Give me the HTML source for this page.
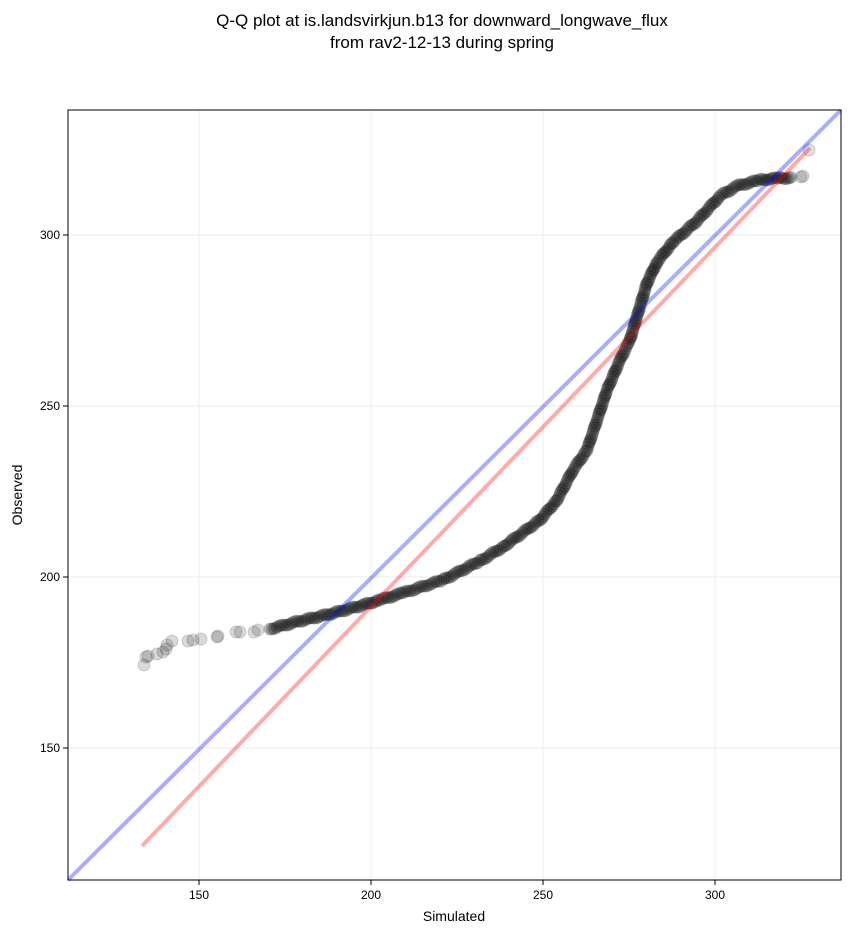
<!DOCTYPE html>
<html><head><meta charset="utf-8"><style>
body{margin:0;background:#fff;font-family:"Liberation Sans","DejaVu Sans",sans-serif;}
</style></head><body>
<svg id="s" width="851" height="934" xmlns="http://www.w3.org/2000/svg" font-family="Liberation Sans, DejaVu Sans, sans-serif">
<rect width="851" height="934" fill="#fff"/>
<text x="442" y="26" font-size="17" text-anchor="middle">Q-Q plot at is.landsvirkjun.b13 for downward_longwave_flux</text>
<text x="442" y="48" font-size="17" text-anchor="middle">from rav2-12-13 during spring</text>
<g stroke="#efefef" stroke-width="1.2">
<line x1="199" y1="110" x2="199" y2="880"/><line x1="371" y1="110" x2="371" y2="880"/>
<line x1="543" y1="110" x2="543" y2="880"/><line x1="715" y1="110" x2="715" y2="880"/>
<line x1="68" y1="235" x2="841" y2="235"/><line x1="68" y1="406" x2="841" y2="406"/>
<line x1="68" y1="577" x2="841" y2="577"/><line x1="68" y1="748" x2="841" y2="748"/>
</g>
<g id="pts"></g>
<line x1="68" y1="880" x2="841" y2="110" stroke="#0000ff" stroke-opacity="0.33" stroke-width="4"/>
<line x1="142" y1="846" x2="810" y2="148" stroke="#ff0000" stroke-opacity="0.33" stroke-width="4"/>
<rect x="68" y="110" width="773" height="770" fill="none" stroke="#000" stroke-width="1"/>
<g stroke="#000"><line x1="199" y1="880" x2="199" y2="885"/><line x1="371" y1="880" x2="371" y2="885"/><line x1="543" y1="880" x2="543" y2="885"/><line x1="715" y1="880" x2="715" y2="885"/>
<line x1="63" y1="235" x2="68" y2="235"/><line x1="63" y1="406" x2="68" y2="406"/><line x1="63" y1="577" x2="68" y2="577"/><line x1="63" y1="748" x2="68" y2="748"/></g>
<g font-size="12" text-anchor="middle"><text x="199" y="899">150</text><text x="371" y="899">200</text><text x="543" y="899">250</text><text x="715" y="899">300</text></g>
<g font-size="12" text-anchor="end"><text x="60" y="239">300</text><text x="60" y="410">250</text><text x="60" y="581">200</text><text x="60" y="752">150</text></g>
<text x="454" y="921" font-size="14" text-anchor="middle">Simulated</text>
<text x="22" y="495" font-size="14" text-anchor="middle" transform="rotate(-90 22 495)">Observed</text>
</svg>
<script>
var g=document.getElementById('pts'),NS="http://www.w3.org/2000/svg";
function c(x,y,a){a=a||0.25;var e=document.createElementNS(NS,'circle');e.setAttribute('cx',x);e.setAttribute('cy',y);e.setAttribute('r',6);e.setAttribute('fill','rgba(0,0,0,'+a+')');e.setAttribute('stroke','rgba(0,0,0,0.15)');g.appendChild(e);}
var sparse=[[144,665],[146,657],[148,656],[157,654],[163,652],[166,649],[167,645],[172,641],[188,641],[193,640],[201,639],[217,637],[218,636],[236,632],[240,632],[254,632],[258,630]];
sparse.forEach(function(p){c(p[0],p[1],0.15);});
var P=[[270,629],[300,621],[330,614],[360,606],[380,600],[403,593],[443,580],[480,561],[503,547],[540,520],[557,500],[573,470],[587,450],[598,417],[607,390],[620,360],[630,340],[638,313],[647,283],[657,262],[673,242],[697,221],[720,196],[737,186],[760,180],[780,178],[793,178]];
for(var i=0;i<P.length-1;i++){var a=P[i],b=P[i+1],d=Math.hypot(b[0]-a[0],b[1]-a[1]),n=Math.ceil(d/2.5);
for(var k=0;k<n;k++){var t=k/n;c(a[0]+(b[0]-a[0])*t,a[1]+(b[1]-a[1])*t+(Math.sin(i*7+k)*0.8));}}
c(803,176,0.15);c(801,177,0.15);c(809,150,0.12);
</script>
</body></html>
